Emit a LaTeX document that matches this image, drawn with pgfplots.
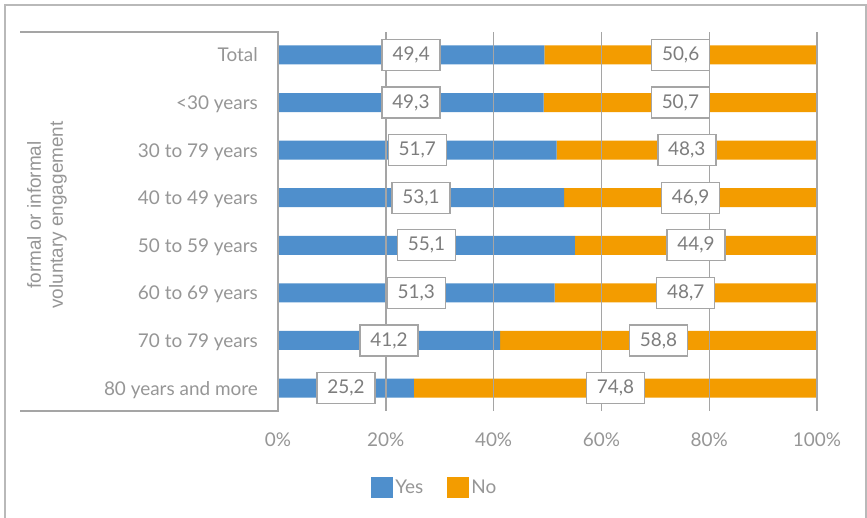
\documentclass[border=0pt]{standalone}
\usepackage{pgfplots}
\pgfplotsset{compat=1.18}
\usepackage{fontspec}
\setmainfont{Lato}
\newfontfamily\arialfont{Liberation Sans}
\definecolor{yesblue}{RGB}{79,143,204}
\definecolor{noorange}{RGB}{243,156,0}
\definecolor{gridgray}{RGB}{165,165,165}
\definecolor{axgray}{RGB}{150,150,150}
\definecolor{labgray}{RGB}{125,125,125}
\definecolor{framegray}{RGB}{185,185,185}
\begin{document}
\begin{tikzpicture}
\path[use as bounding box] (0,0) rectangle (867bp,518bp);
\fill[white] (0,0) rectangle (867bp,518bp);
\draw[framegray, line width=1.6bp] (5bp,-2bp) -- (5bp,513bp) -- (866bp,513bp) -- (866bp,-2bp);
\begin{axis}[
  at={(278bp,107bp)}, anchor=south west,
  scale only axis, width=539bp, height=379bp,
  xbar stacked, bar width=19bp,
  xmin=0, xmax=100, ymin=-0.483, ymax=7.483, y dir=reverse,
  xtick={0,20,40,60,80,100},
  xticklabels={0\%,20\%,40\%,60\%,80\%,100\%},
  ytick={0,1,2,3,4,5,6,7},
  yticklabels={Total,<30 years,30 to 79 years,40 to 49 years,50 to 59 years,60 to 69 years,70 to 79 years,80 years and more},
  axis line style={draw=none},
  tick style={draw=none},
  xmajorgrids, grid style={gridgray, line width=1.4bp},
  axis on top,
  xticklabel style={font=\fontsize{19}{21}\selectfont, text=axgray, anchor=north, inner sep=0pt, yshift=-22bp},
  yticklabel style={font=\fontsize{19}{21}\selectfont, text=axgray, anchor=base east, inner sep=0pt, xshift=-20bp, yshift=-7bp},
  legend style={at={(0.291,-0.203)}, anchor=center, draw=none, fill=none,
    font=\fontsize{19}{21}\selectfont, text=axgray,
    /tikz/every even column/.append style={column sep=22bp}},
  legend columns=2,
  legend image code/.code={\fill[#1] (0bp,-10.5bp) rectangle (22bp,10.5bp);},
]
\addplot[fill=yesblue, draw=none] coordinates {(49.4,0) (49.3,1) (51.7,2) (53.1,3) (55.1,4) (51.3,5) (41.2,6) (25.2,7)};
\addplot[fill=noorange, draw=none] coordinates {(50.6,0) (50.7,1) (48.3,2) (46.9,3) (44.9,4) (48.7,5) (58.8,6) (74.8,7)};
\legend{Yes,No}
\end{axis}
\draw[gridgray, line width=1.4bp] (20bp,486bp) -- (278bp,486bp) -- (278bp,107bp) -- (20bp,107bp);
\begin{axis}[
  at={(278bp,107bp)}, anchor=south west,
  scale only axis, width=539bp, height=379bp,
  xmin=0, xmax=100, ymin=-0.483, ymax=7.483, y dir=reverse,
  hide axis,
]
\addplot[draw=none, mark=none, nodes near coords, point meta=explicit symbolic,
  nodes near coords align=center,
  every node near coord/.append style={anchor=center, draw=gridgray, line width=1.4bp, fill=white,
    text=labgray, font=\fontsize{19}{21}\selectfont, minimum width=58bp, minimum height=31bp, inner sep=0pt}]
table[meta=lab] {
x y lab
24.70 0 49,4
24.65 1 49,3
25.85 2 51,7
26.55 3 53,1
27.55 4 55,1
25.65 5 51,3
20.60 6 41,2
12.60 7 25,2
74.70 0 50,6
74.65 1 50,7
75.85 2 48,3
76.55 3 46,9
77.55 4 44,9
75.65 5 48,7
70.60 6 58,8
62.60 7 74,8
};
\end{axis}
\node[rotate=90, align=center, text=axgray, font=\arialfont\fontsize{19}{22}\selectfont] at (47bp,303bp) {formal or informal\\voluntary engagement};
\end{tikzpicture}
\end{document}
